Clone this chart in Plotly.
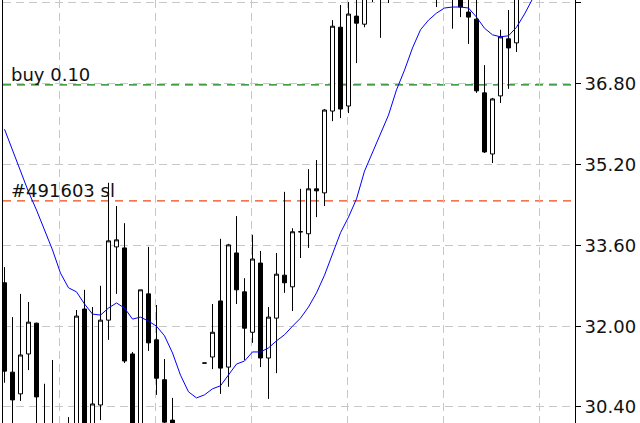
import plotly.graph_objects as go

# ---- data (oldest -> newest bar) ----
opens = [32.86, 31.09, 30.66, 31.45, 32.06, 29.98, 29.55, 29.75, 29.85, 29.75,
         32.34, 29.94, 30.44, 32.12, 33.57, 33.55, 31.45, 29.75, 32.64, 31.73,
         30.94, 30.14, 29.75, 29.45, 29.55, 31.27, 31.39, 32.50, 31.19, 33.45,
         32.68, 31.88, 33.25, 31.37, 32.16, 33.01, 32.78, 33.87, 33.83, 34.72,
         34.64, 36.26, 37.92, 36.36, 38.14, 37.98, 38.76, 38.52, 38.86, 38.86,
         38.95, 38.76, 39.05, 38.86, 38.86, 38.66, 38.56, 38.66, 38.22, 38.08,
         36.62, 35.41, 36.56, 37.69, 37.61, 38.62, 39.05]
highs = [33.17, 32.18, 32.64, 32.48, 32.07, 30.86, 31.33, 29.94, 30.20, 32.32,
         32.72, 32.38, 32.80, 34.84, 34.38, 34.04, 31.49, 32.72, 33.57, 32.42,
         31.35, 30.58, 29.94, 29.75, 30.02, 31.27, 32.44, 33.73, 33.63, 34.18,
         32.95, 33.81, 33.49, 32.38, 33.45, 34.66, 33.94, 34.72, 35.11, 35.29,
         36.30, 38.06, 38.36, 38.42, 38.56, 38.86, 39.05, 38.95, 39.05, 39.25,
         39.35, 39.25, 39.45, 39.35, 39.15, 39.25, 39.05, 38.95, 38.56, 38.56,
         37.17, 36.52, 37.87, 38.26, 38.86, 39.25, 39.35]
lows = [30.88, 29.75, 30.52, 31.13, 29.65, 29.45, 29.35, 29.15, 29.25, 29.55,
        29.65, 29.75, 30.14, 31.73, 32.64, 31.27, 29.55, 29.55, 31.51, 30.64,
        29.94, 29.75, 29.15, 28.95, 29.35, 31.27, 31.15, 30.66, 30.80, 32.44,
        31.33, 31.67, 31.19, 30.56, 31.07, 32.66, 32.30, 33.35, 33.55, 34.16,
        34.38, 36.06, 36.12, 36.22, 37.21, 37.92, 38.42, 37.71, 38.40, 38.66,
        38.62, 38.56, 38.66, 38.70, 38.32, 38.56, 37.89, 38.12, 37.59, 36.62,
        35.43, 35.23, 36.42, 36.70, 37.43, 38.56, 38.70]
closes = [31.11, 30.54, 31.43, 32.08, 30.60, 29.65, 29.94, 29.35, 29.45, 32.20,
          29.85, 30.46, 32.12, 33.69, 33.71, 31.31, 29.75, 32.72, 31.67, 30.97,
          30.10, 29.94, 29.35, 29.15, 29.98, 31.27, 31.88, 31.17, 33.61, 32.72,
          31.96, 33.33, 31.37, 32.18, 33.03, 32.86, 33.87, 33.87, 34.72, 34.68,
          36.28, 37.94, 36.30, 38.18, 38.00, 38.66, 38.52, 38.86, 38.50, 39.05,
          38.76, 39.05, 38.86, 39.15, 38.62, 38.95, 38.76, 38.32, 38.12, 36.66,
          35.45, 36.50, 37.73, 37.51, 38.56, 39.05, 38.86]
ma_values = [35.90, 35.49, 35.05, 34.66, 34.30, 33.91, 33.51, 33.05, 32.76, 32.68,
             32.44, 32.24, 32.22, 32.36, 32.46, 32.36, 32.14, 32.18, 32.10, 32.00,
             31.81, 31.47, 31.03, 30.70, 30.58, 30.64, 30.76, 30.82, 31.03, 31.25,
             31.31, 31.49, 31.49, 31.57, 31.71, 31.83, 32.00, 32.16, 32.38, 32.66,
             33.01, 33.41, 33.85, 34.16, 34.52, 35.07, 35.45, 35.81, 36.18, 36.68,
             37.07, 37.51, 37.87, 38.06, 38.20, 38.30, 38.32, 38.32, 38.30, 38.12,
             37.90, 37.77, 37.73, 37.75, 37.92, 38.18, 38.48]
price_ticks = [30.40, 32.00, 33.60, 35.20, 36.80, 38.40]
order_levels = [36.78, 34.48]
order_labels = ["buy 0.10", "#491603 sl"]

bars = list(range(len(opens)))

# ---- layout constants ----
W, H = 640, 423
ML, MR = 3, 65
plot_w = W - ML - MR
bar_px = 8.0
x0 = -0.1875
x1 = x0 + plot_w / bar_px
y_lo, y_hi = 30.083, 38.459
grid_x = [6.85 + 12 * k for k in range(6)]
order_colors = ["#0a7d0a", "#f04a16"]
FONT = "DejaVu Sans"

fig = go.Figure()

fig.add_trace(go.Candlestick(
    x=bars, open=opens, high=highs, low=lows, close=closes,
    increasing=dict(line=dict(color="black", width=1), fillcolor="white"),
    decreasing=dict(line=dict(color="black", width=1), fillcolor="black"),
    whiskerwidth=0, showlegend=False, hoverinfo="skip",
))

fig.add_trace(go.Scatter(
    x=bars, y=ma_values, mode="lines",
    line=dict(color="#0000ff", width=1), showlegend=False, hoverinfo="skip",
))

for lvl, lab, col in zip(order_levels, order_labels, order_colors):
    fig.add_shape(type="line", xref="paper", x0=0, x1=1, yref="y", y0=lvl, y1=lvl,
                  line=dict(color=col, width=1.3, dash="8px,6px"), layer="below")
    fig.add_annotation(xref="paper", x=0.0105, yref="y", y=lvl, text=lab,
                       showarrow=False, xanchor="left", yanchor="middle", yshift=10,
                       font=dict(family=FONT, size=18, color="#111111"))

fig.update_layout(
    width=W, height=H,
    margin=dict(l=ML, r=MR, t=0, b=0),
    paper_bgcolor="white", plot_bgcolor="white",
    boxgap=0.5, boxgroupgap=0,
    xaxis=dict(range=[x0, x1], showticklabels=False, ticks="",
               tickvals=grid_x, showgrid=True, gridcolor="#c8c8c8",
               griddash="8px,5px", gridwidth=1, zeroline=False,
               showline=False, rangeslider=dict(visible=False), fixedrange=True),
    yaxis=dict(range=[y_lo, y_hi], side="right", tickvals=price_ticks,
               ticktext=[f"{v:.2f}" for v in price_ticks],
               ticks="outside", ticklen=5, tickcolor="black", tickwidth=1,
               showline=True, linecolor="black", linewidth=1, mirror=True,
               showgrid=True, gridcolor="#c8c8c8", griddash="8px,5px", gridwidth=1,
               zeroline=False, tickfont=dict(family=FONT, size=18, color="#111111"),
               fixedrange=True),
    showlegend=False,
)

fig.write_html(
    "out.html",
    config={"displayModeBar": False},
    post_script="document.body.style.margin='0';document.body.style.overflow='hidden';",
)
